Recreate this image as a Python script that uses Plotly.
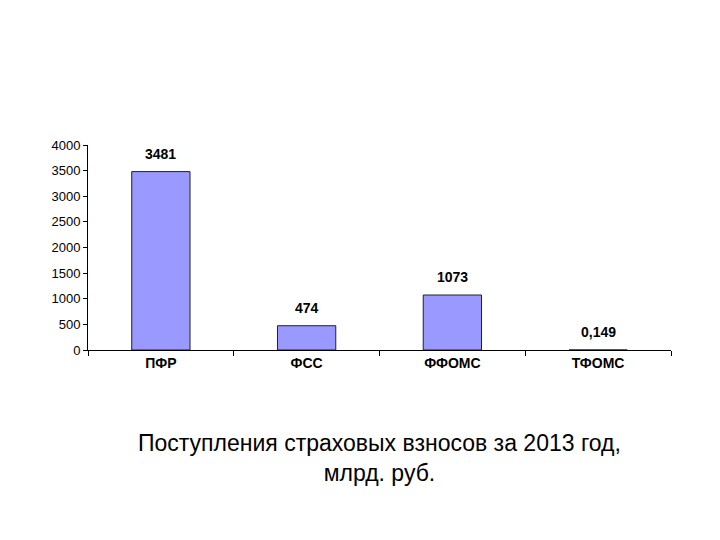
import plotly.graph_objects as go

categories = ["ПФР", "ФСС", "ФФОМС", "ТФОМС"]
values = [3481, 474, 1073, 0.149]
value_labels = ["3481", "474", "1073", "0,149"]
y_ticks = [0, 500, 1000, 1500, 2000, 2500, 3000, 3500, 4000]

FONT = "Liberation Sans, Arial"

fig = go.Figure()
fig.add_trace(go.Bar(
    x=categories, y=values, width=0.4,
    marker=dict(color="#9999FF", line=dict(color="#222222", width=1)),
))

for cat, val, lab in zip(categories, values, value_labels):
    fig.add_annotation(x=cat, y=val, text="<b>%s</b>" % lab, showarrow=False,
                       yanchor="middle", yshift=18,
                       font=dict(family=FONT, size=14, color="black"))

fig.add_annotation(text="Поступления страховых взносов за 2013 год,<br>млрд. руб.",
                   xref="paper", yref="paper", x=0.5, y=-0.38, showarrow=False,
                   yanchor="top", font=dict(family=FONT, size=23, color="black"))

fig.update_layout(
    width=720, height=540,
    paper_bgcolor="white", plot_bgcolor="white",
    margin=dict(l=80, r=57, t=137, b=198),
    showlegend=False,
    bargap=0.6,
    xaxis=dict(showline=True, linecolor="black", ticks="outside", tickson="boundaries",
               ticklen=5, tickcolor="black",
               tickfont=dict(family=FONT, size=14, color="black"),
               tickprefix="<b>", ticksuffix="</b>"),
    yaxis=dict(range=[0, 4000], tickvals=y_ticks, showline=True, linecolor="black", ticks="outside",
               ticklen=4, tickcolor="black", showgrid=False, zeroline=False,
               tickfont=dict(family=FONT, size=13, color="black")),
)

fig.write_html("out.html")
